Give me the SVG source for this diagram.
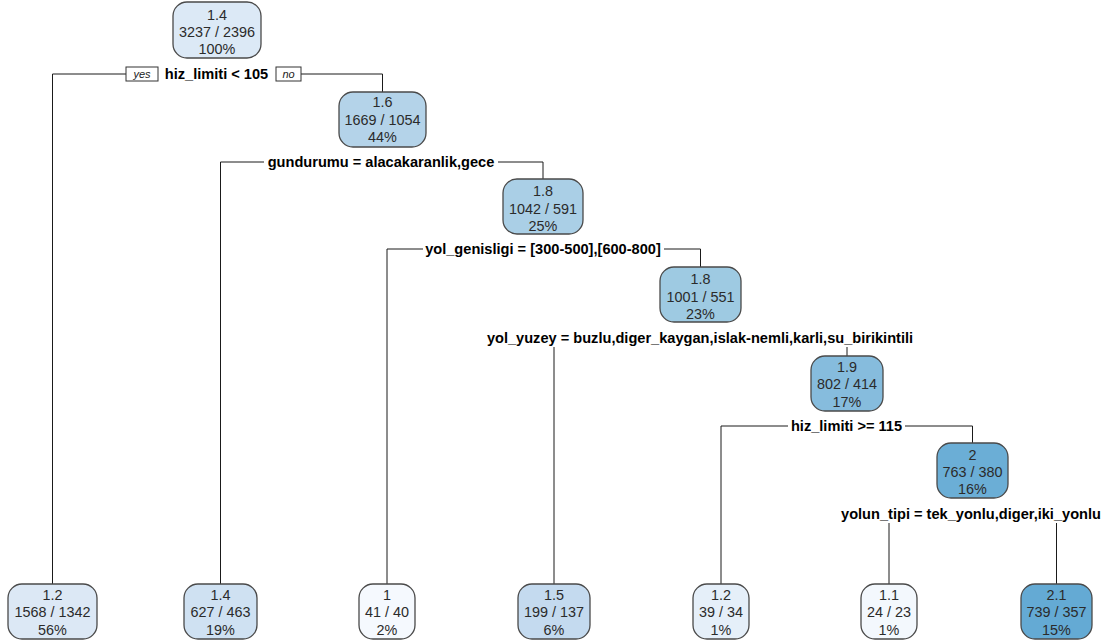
<svg xmlns="http://www.w3.org/2000/svg" width="1110" height="643" viewBox="0 0 1110 643">
<style>
.box{stroke:#4a4a4a;stroke-width:1.3}
.nt{font-family:"Liberation Sans",Arial,sans-serif;font-size:14.4px;fill:#2b2b2b;text-anchor:middle}
.sp{font-family:"Liberation Sans",Arial,sans-serif;font-size:14.6px;font-weight:bold;fill:#000;text-anchor:middle}
.yn{font-family:"Liberation Sans",Arial,sans-serif;font-size:11px;font-style:italic;fill:#222;text-anchor:middle}
.ynb{fill:#fff;stroke:#333;stroke-width:1}
.ln{fill:none;stroke:#1a1a1a;stroke-width:1}
</style>
<rect width="1110" height="643" fill="#fff"/>
<g id="connectors">
<path class="ln" d="M126,74 H52.5 V584"/>
<path class="ln" d="M301,74 H382.5 V92"/>
<path class="ln" d="M264,162 H220.5 V584"/>
<path class="ln" d="M498,162 H543 V179"/>
<path class="ln" d="M423,249 H387 V584"/>
<path class="ln" d="M664,249 H700.5 V267"/>
<path class="ln" d="M554,347 V584"/>
<path class="ln" d="M847,347 V356"/>
<path class="ln" d="M788,426 H721 V584"/>
<path class="ln" d="M905,426 H972.5 V443"/>
<path class="ln" d="M889,523 V584"/>
<path class="ln" d="M1056.5,523 V584"/>
</g>
<g id="split-labels">
<rect class="ynb" x="126" y="67" width="32" height="14"/>
<text class="yn" x="142" y="78">yes</text>
<rect class="ynb" x="276" y="67" width="25" height="14"/>
<text class="yn" x="288.5" y="78">no</text>
<text class="sp" x="216.5" y="79">hiz_limiti &lt; 105</text>
<text class="sp" x="381" y="167">gundurumu = alacakaranlik,gece</text>
<text class="sp" x="543" y="254">yol_genisligi = [300-500],[600-800]</text>
<text class="sp" x="700" y="343">yol_yuzey = buzlu,diger_kaygan,islak-nemli,karli,su_birikintili</text>
<text class="sp" x="846.5" y="431">hiz_limiti &gt;= 115</text>
<text class="sp" x="971" y="519">yolun_tipi = tek_yonlu,diger,iki_yonlu</text>
</g>
<g id="node-root">
<rect class="box" x="173" y="2" width="88" height="56" rx="14" fill="#DCE9F6"/>
<text class="nt" x="217" y="20">1.4</text>
<text class="nt" x="217" y="37">3237 / 2396</text>
<text class="nt" x="217" y="54">100%</text>
</g>
<g id="node-2">
<rect class="box" x="339" y="92" width="87" height="55" rx="14" fill="#B4D3E9"/>
<text class="nt" x="382.5" y="107">1.6</text>
<text class="nt" x="382.5" y="125">1669 / 1054</text>
<text class="nt" x="382.5" y="142">44%</text>
</g>
<g id="node-3">
<rect class="box" x="503" y="179" width="80" height="55" rx="14" fill="#AACFE6"/>
<text class="nt" x="543" y="196">1.8</text>
<text class="nt" x="543" y="214">1042 / 591</text>
<text class="nt" x="543" y="231">25%</text>
</g>
<g id="node-4">
<rect class="box" x="660" y="267" width="81" height="55" rx="14" fill="#9ECAE2"/>
<text class="nt" x="700.5" y="284">1.8</text>
<text class="nt" x="700.5" y="302">1001 / 551</text>
<text class="nt" x="700.5" y="319">23%</text>
</g>
<g id="node-5">
<rect class="box" x="811" y="356" width="72" height="55" rx="14" fill="#86BCDD"/>
<text class="nt" x="847" y="372">1.9</text>
<text class="nt" x="847" y="389">802 / 414</text>
<text class="nt" x="847" y="407">17%</text>
</g>
<g id="node-6">
<rect class="box" x="937" y="443" width="71" height="55" rx="14" fill="#6BAED6"/>
<text class="nt" x="972.5" y="460">2</text>
<text class="nt" x="972.5" y="477">763 / 380</text>
<text class="nt" x="972.5" y="494">16%</text>
</g>
<g id="leaf-1">
<rect class="box" x="8" y="584" width="89" height="55" rx="14" fill="#DCE8F5"/>
<text class="nt" x="52.5" y="600">1.2</text>
<text class="nt" x="52.5" y="617">1568 / 1342</text>
<text class="nt" x="52.5" y="635">56%</text>
</g>
<g id="leaf-2">
<rect class="box" x="184" y="584" width="73" height="55" rx="14" fill="#CFE1F2"/>
<text class="nt" x="220.5" y="600">1.4</text>
<text class="nt" x="220.5" y="617">627 / 463</text>
<text class="nt" x="220.5" y="635">19%</text>
</g>
<g id="leaf-3">
<rect class="box" x="359" y="584" width="56" height="55" rx="14" fill="#F5F9FE"/>
<text class="nt" x="387" y="600">1</text>
<text class="nt" x="387" y="617">41 / 40</text>
<text class="nt" x="387" y="635">2%</text>
</g>
<g id="leaf-4">
<rect class="box" x="518" y="584" width="72" height="55" rx="14" fill="#C4DAEF"/>
<text class="nt" x="554" y="600">1.5</text>
<text class="nt" x="554" y="617">199 / 137</text>
<text class="nt" x="554" y="635">6%</text>
</g>
<g id="leaf-5">
<rect class="box" x="693" y="584" width="56" height="55" rx="14" fill="#E5EFF9"/>
<text class="nt" x="721" y="600">1.2</text>
<text class="nt" x="721" y="617">39 / 34</text>
<text class="nt" x="721" y="635">1%</text>
</g>
<g id="leaf-6">
<rect class="box" x="861" y="584" width="56" height="55" rx="14" fill="#F3F8FD"/>
<text class="nt" x="889" y="600">1.1</text>
<text class="nt" x="889" y="617">24 / 23</text>
<text class="nt" x="889" y="635">1%</text>
</g>
<g id="leaf-7">
<rect class="box" x="1021" y="584" width="71" height="55" rx="14" fill="#64AAD4"/>
<text class="nt" x="1056.5" y="600">2.1</text>
<text class="nt" x="1056.5" y="617">739 / 357</text>
<text class="nt" x="1056.5" y="635">15%</text>
</g>
</svg>
